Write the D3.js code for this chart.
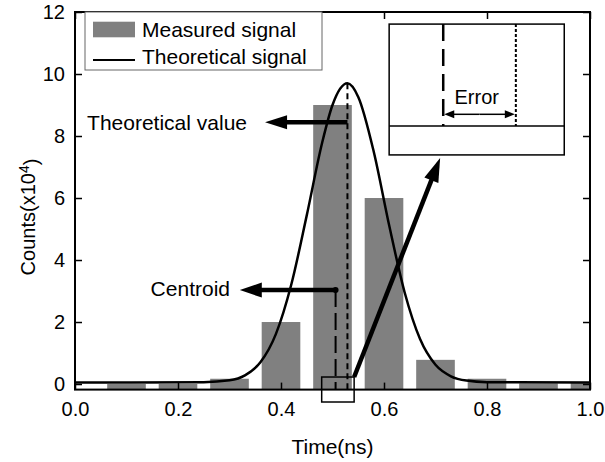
<!DOCTYPE html>
<html>
<head>
<meta charset="utf-8">
<script src="https://cdn.jsdelivr.net/npm/d3@7"></script>
<style>
  body { margin: 0; background: #fff; }
  svg { display: block; font-family: "Liberation Sans", Arial, sans-serif; }
</style>
</head>
<body>
<svg id="chart"></svg>
<script>
// measured histogram
const binTime = [0.1, 0.2, 0.3, 0.4, 0.5, 0.6, 0.7, 0.8, 0.9, 1.0];
const binCounts = [0.0, 0.0, 0.17, 2.0, 9.0, 6.0, 0.78, 0.17, 0.02, 0.05];
const binWidth = 0.075;

// theoretical signal
const curveTime = [0.0, 0.25, 0.3, 0.33, 0.36, 0.39, 0.42, 0.45, 0.48, 0.5, 0.529, 0.55, 0.58, 0.61, 0.64, 0.67, 0.7, 0.73, 0.76, 0.8, 1.0];
const curveCounts = [0.05, 0.06, 0.12, 0.28, 0.7, 1.61, 3.21, 5.44, 7.79, 9.0, 9.7, 9.26, 7.5, 5.12, 2.96, 1.45, 0.62, 0.25, 0.11, 0.06, 0.05];

const timeTicks = [0.0, 0.2, 0.4, 0.6, 0.8, 1.0];
const countTicks = [0, 2, 4, 6, 8, 10, 12];

// annotation anchors (data units)
const centroid = { t: 0.506, c: 3.03 };
const peak = { t: 0.529, c: 9.7 };

const width = 605, height = 462;
const margin = { top: 12, right: 15, bottom: 72.4, left: 75 };
const innerWidth = width - margin.left - margin.right;
const innerHeight = height - margin.top - margin.bottom;

const svg = d3.select("#chart").attr("width", width).attr("height", height);
const g = svg.append("g").attr("transform", `translate(${margin.left},${margin.top})`);

const x = d3.scaleLinear().domain([0, 1]).range([0, innerWidth]);
const y = d3.scaleLinear().domain([-0.18, 12]).range([innerHeight, 0]);

g.append("clipPath").attr("id", "plot-clip")
  .append("rect").attr("width", innerWidth).attr("height", innerHeight);

const plot = g.append("g").attr("clip-path", "url(#plot-clip)");

plot.selectAll(".bar")
  .data(binTime)
  .join("rect")
  .classed("bar", true)
  .attr("x", (d) => x(d - binWidth / 2))
  .attr("width", x(binWidth) - x(0))
  .attr("y", (d, i) => y(binCounts[i]))
  .attr("height", (d, i) => y(-0.18) - y(binCounts[i]))
  .attr("fill", "#808080");

const line = d3.line()
  .x((d) => x(d))
  .y((d, i) => y(curveCounts[i]))
  .curve(d3.curveMonotoneX);

plot.append("path")
  .datum(curveTime)
  .attr("d", line)
  .attr("fill", "none")
  .attr("stroke", "#000")
  .attr("stroke-width", 2.5);

// centroid and theoretical marker lines
g.append("line")
  .attr("x1", x(centroid.t)).attr("x2", x(centroid.t))
  .attr("y1", y(centroid.c)).attr("y2", innerHeight)
  .attr("stroke", "#000").attr("stroke-width", 2)
  .attr("stroke-dasharray", "17,6");

g.append("line")
  .attr("x1", x(peak.t)).attr("x2", x(peak.t))
  .attr("y1", y(peak.c)).attr("y2", innerHeight)
  .attr("stroke", "#000").attr("stroke-width", 2)
  .attr("stroke-dasharray", "6,4");

g.append("circle")
  .attr("cx", x(centroid.t)).attr("cy", y(centroid.c))
  .attr("r", 3).attr("fill", "#000");

function arrow(parent, x1, y1, x2, y2, headLen, headHalf, lw) {
  const dx = x2 - x1, dy = y2 - y1;
  const len = Math.hypot(dx, dy);
  const ux = dx / len, uy = dy / len;
  const bx = x2 - ux * headLen, by = y2 - uy * headLen;
  parent.append("line")
    .attr("x1", x1).attr("y1", y1).attr("x2", bx + ux).attr("y2", by + uy)
    .attr("stroke", "#000").attr("stroke-width", lw);
  parent.append("path")
    .attr("d", `M${x2},${y2}L${bx - uy * headHalf},${by + ux * headHalf}L${bx + uy * headHalf},${by - ux * headHalf}Z`)
    .attr("fill", "#000");
}

const labelFont = "21px";

// Theoretical value
const tvY = y(8.44);
arrow(g, x(peak.t), tvY, x(0.369), tvY, 22, 7, 4.5);
g.append("text")
  .attr("x", x(0.334)).attr("y", tvY)
  .attr("dy", "0.35em")
  .attr("text-anchor", "end")
  .style("font-size", labelFont)
  .text("Theoretical value");

// Centroid
arrow(g, x(centroid.t), y(centroid.c), x(0.32), y(centroid.c), 22, 7.5, 4.5);
g.append("text")
  .attr("x", x(0.301)).attr("y", y(centroid.c))
  .attr("dy", "0.3em")
  .attr("text-anchor", "end")
  .style("font-size", labelFont)
  .text("Centroid");

// zoom box at the base
g.append("rect")
  .attr("x", x(0.479)).attr("y", y(0.226))
  .attr("width", x(0.542) - x(0.479))
  .attr("height", y(-0.58) - y(0.226))
  .attr("fill", "none").attr("stroke", "#000").attr("stroke-width", 1.5);

arrow(g, x(0.542), y(0.226), x(0.709), y(7.29), 24, 7.5, 4.5);

// inset
const inset = g.append("g");
inset.append("rect")
  .attr("x", x(0.61)).attr("y", y(11.61))
  .attr("width", x(0.95) - x(0.61))
  .attr("height", y(7.39) - y(11.61))
  .attr("fill", "#fff").attr("stroke", "#000").attr("stroke-width", 1.5);
inset.append("line")
  .attr("x1", x(0.61)).attr("x2", x(0.95))
  .attr("y1", y(8.32)).attr("y2", y(8.32))
  .attr("stroke", "#000").attr("stroke-width", 1.5);
inset.append("line")
  .attr("x1", x(0.715)).attr("x2", x(0.715))
  .attr("y1", y(11.61)).attr("y2", y(8.32))
  .attr("stroke", "#000").attr("stroke-width", 2.5)
  .attr("stroke-dasharray", "17,8");
inset.append("line")
  .attr("x1", x(0.856)).attr("x2", x(0.856))
  .attr("y1", y(11.61)).attr("y2", y(8.32))
  .attr("stroke", "#000").attr("stroke-width", 2)
  .attr("stroke-dasharray", "3,2");
const errY = y(8.7);
const errMid = (x(0.715) + x(0.856)) / 2;
arrow(inset, errMid, errY, x(0.715) + 1, errY, 10, 4, 1.5);
arrow(inset, errMid, errY, x(0.856) - 1, errY, 10, 4, 1.5);
inset.append("text")
  .attr("x", x(0.78)).attr("y", y(9.27))
  .attr("dy", "0.35em")
  .attr("text-anchor", "middle")
  .style("font-size", "20px")
  .text("Error");

// axes (ticks inward on all sides)
const tickFont = "20px";
const xAxis = d3.axisBottom(x).tickValues(timeTicks).tickFormat(d3.format(".1f"))
  .tickSize(-7).tickPadding(12);
const yAxis = d3.axisLeft(y).tickValues(countTicks).tickFormat(d3.format("d"))
  .tickSize(-7).tickPadding(10);

g.append("g")
  .attr("transform", `translate(0,${innerHeight})`)
  .call(xAxis)
  .call((s) => s.select(".domain").remove())
  .call((s) => s.selectAll("line").attr("stroke-width", 1.5))
  .call((s) => s.selectAll("text").style("font-size", tickFont).attr("fill", "#000")
    .style("font-family", "Liberation Sans, Arial, sans-serif"));

g.append("g")
  .call(yAxis)
  .call((s) => s.select(".domain").remove())
  .call((s) => s.selectAll("line").attr("stroke-width", 1.5))
  .call((s) => s.selectAll("text").style("font-size", tickFont).attr("fill", "#000")
    .style("font-family", "Liberation Sans, Arial, sans-serif"));

g.append("g")
  .call(d3.axisTop(x).tickValues(timeTicks).tickSize(-7).tickFormat(""))
  .call((s) => s.select(".domain").remove())
  .call((s) => s.selectAll("line").attr("stroke-width", 1.5));

g.append("g")
  .attr("transform", `translate(${innerWidth},0)`)
  .call(d3.axisRight(y).tickValues(countTicks).tickSize(-7).tickFormat(""))
  .call((s) => s.select(".domain").remove())
  .call((s) => s.selectAll("line").attr("stroke-width", 1.5));

g.append("rect")
  .attr("width", innerWidth).attr("height", innerHeight)
  .attr("fill", "none").attr("stroke", "#000").attr("stroke-width", 2);

// axis titles
g.append("text")
  .attr("x", innerWidth / 2).attr("y", innerHeight + 64)
  .attr("text-anchor", "middle")
  .style("font-size", "21px")
  .text("Time(ns)");

const yt = svg.append("text")
  .attr("transform", "translate(35,217) rotate(-90)")
  .attr("text-anchor", "middle")
  .style("font-size", "20px");
yt.append("tspan").text("Counts(x10");
yt.append("tspan").attr("dy", "-0.45em").style("font-size", "14px").text("4");
yt.append("tspan").attr("dy", "0.45em").text(")");

// legend
const legend = g.append("g").attr("transform", "translate(10,0)");
legend.append("rect")
  .attr("width", 237).attr("height", 58)
  .attr("fill", "#fff").attr("stroke", "#666").attr("stroke-width", 1);
legend.append("rect")
  .attr("x", 8).attr("y", 9.7).attr("width", 42).attr("height", 15.6)
  .attr("fill", "#808080");
legend.append("line")
  .attr("x1", 8).attr("x2", 50).attr("y1", 48).attr("y2", 48)
  .attr("stroke", "#000").attr("stroke-width", 2);
legend.append("text")
  .attr("x", 57).attr("y", 24.5)
  .style("font-size", "21px")
  .text("Measured signal");
legend.append("text")
  .attr("x", 57).attr("y", 51.5)
  .style("font-size", "21px")
  .text("Theoretical signal");
</script>
</body>
</html>
